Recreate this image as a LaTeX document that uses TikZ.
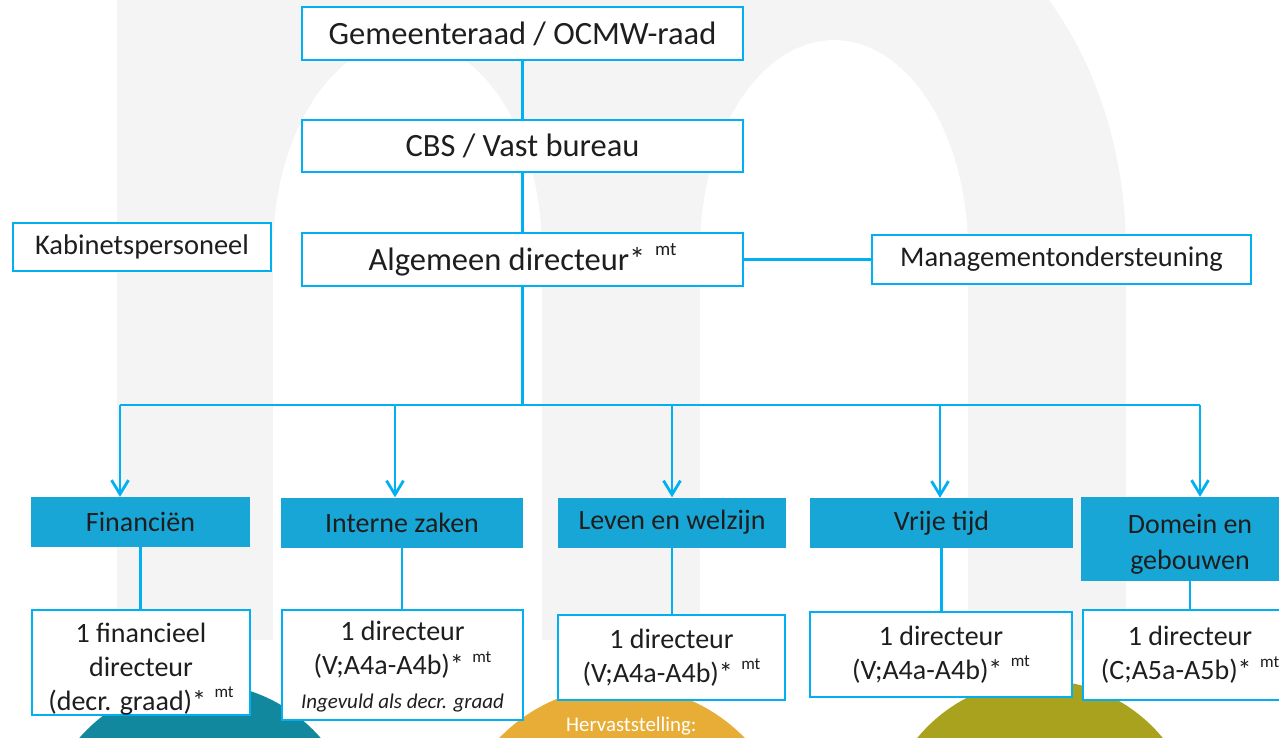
\documentclass[tikz,border=0pt]{standalone}
\usepackage{fontspec}
\setmainfont{Carlito}
\usepackage{tikz}
\usetikzlibrary{arrows.meta,positioning}
\definecolor{lineblue}{HTML}{00B0F0}
\definecolor{deptblue}{HTML}{18A6D6}
\definecolor{inkdark}{HTML}{1E1E1E}
\definecolor{mgrey}{HTML}{F4F4F4}
\definecolor{tealdot}{HTML}{12889F}
\definecolor{golddot}{HTML}{E8AD36}
\definecolor{olivedot}{HTML}{A8A21E}
\newcommand{\mtsup}[1]{\hspace{.3em}\raisebox{.45em}{\fontsize{#1}{#1}\selectfont mt}}
% less depth below pushes the lines down by half of #1
\newcommand{\dropby}[2]{\raisebox{0pt}[\height][\dimexpr\depth-#1\relax]{\begin{tabular}{@{}c@{}}#2\end{tabular}}}

\begin{document}
\begin{tikzpicture}[x=1pt,y=-1pt,
   orgbox/.style={draw=lineblue,line width=2.5pt,fill=white,text=inkdark,align=center,inner sep=2pt},
   topbox/.style={orgbox,minimum width=441pt,minimum height=53pt,font=\fontsize{32.5}{38}\selectfont},
   sidebox/.style={orgbox,minimum height=49pt,font=\fontsize{28.5}{34}\selectfont},
   deptbox/.style={fill=deptblue,text=inkdark,align=center,minimum height=50pt,font=\fontsize{28}{36}\selectfont},
   postbox/.style={orgbox,font=\fontsize{28}{34}\selectfont},
   linkline/.style={draw=lineblue,line width=3.2pt},
   busline/.style={draw=lineblue,line width=2.8pt},
   feedarrow/.style={busline,-{Straight Barb[length=14pt,width=17pt]}}]
  \useasboundingbox (0,0) rectangle (1279,737);
  % faint m in the back
  \fill[mgrey] (117,640) -- (117,-30) -- (1024,-30)
     -- plot[domain=49.2:0,variable=\t,samples=30] ({833+293*cos(\t)},{250-370*sin(\t)})
     -- (1126,640) -- cycle;
  \fill[white] (273,640) -- (273,250)
     -- plot[domain=180:0,variable=\t,samples=40] ({407.5+134.5*cos(\t)},{250-210*sin(\t)})
     -- (542,640) -- cycle;
  \fill[white] (700,640) -- (700,250)
     -- plot[domain=180:0,variable=\t,samples=40] ({834+134*cos(\t)},{250-210*sin(\t)})
     -- (968,640) -- cycle;
  % coloured dots at the foot
  \fill[tealdot] (200,843) circle[radius=160pt];
  \fill[golddot] (622,857) circle[radius=171pt];
  \fill[olivedot] (1040,839) circle[radius=159pt];
  \node[font=\fontsize{20.8}{24}\selectfont,text=white,anchor=base west,inner sep=0pt] (herv) at (566,731) {Hervaststelling:};

  % top of the chart
  \node[topbox] (gemraad) at (522.5,33.5) {Gemeenteraad / OCMW-raad};
  \node[topbox,minimum height=52pt] (cbs) at (522.5,146) {CBS / Vast bureau};
  \node[topbox] (algdir) at (522.5,259.5) {Algemeen directeur*\mtsup{19}};
  \node[sidebox,minimum width=258pt,minimum height=48pt] (kabinet) at (142,247) {Kabinetspersoneel};
  \node[sidebox,minimum width=379pt] (mgmt) at (1061.5,259.5) {Managementondersteuning};
  \draw[linkline] (gemraad) -- (cbs);
  \draw[linkline] (cbs) -- (algdir);
  \draw[linkline] (algdir) -- (mgmt);

  % departments
  \node[deptbox,minimum width=219pt] (fin) at (140.5,522) {Financiën};
  \node[deptbox,minimum width=242pt] (intern) at (402,522.5) {Interne zaken};
  \node[deptbox,minimum width=228pt] (leven) at (672,522.5) {Leven en welzijn};
  \node[deptbox,minimum width=263pt] (vrij) at (941.5,523) {Vrije tijd};
  \node[deptbox,minimum width=218pt,minimum height=84pt] (domein) at (1190,539)
     {\dropby{10pt}{Domein en\\gebouwen}};

  \coordinate (split) at (522.5,405);
  \draw[busline] (algdir) -- (split);
  \foreach \x/\n [count=\i] in {120/fin,395/intern,672/leven,940/vrij,1200/domein}{
    \coordinate (drop\i) at (\x,405);
    \draw[feedarrow] (drop\i) -- (drop\i |- \n.north);}
  \draw[busline] (drop1) -- (drop5);

  % one director per department
  \node[postbox,minimum width=218pt,minimum height=105pt] (dirfin) at (141,662.5)
     {\dropby{14pt}{1 financieel\\directeur\\(decr. graad)*\mtsup{17}}};
  \node[postbox,minimum width=241pt,minimum height=110pt] (dirint) at (402.5,665)
     {\dropby{6pt}{1 directeur\\(V;A4a-A4b)*\mtsup{17}\\{\fontsize{21}{24}\selectfont\itshape Ingevuld als decr. graad}}};
  \node[postbox,minimum width=227pt,minimum height=85pt] (dirlev) at (671.5,657.5)
     {1 directeur\\(V;A4a-A4b)*\mtsup{17}};
  \node[postbox,minimum width=262pt,minimum height=85pt] (dirvrij) at (941,654.5)
     {1 directeur\\(V;A4a-A4b)*\mtsup{17}};
  \node[postbox,minimum width=214pt,minimum height=90pt] (dirdom) at (1190,655)
     {1 directeur\\(C;A5a-A5b)*\mtsup{17}};
  \foreach \a/\b in {fin/dirfin,intern/dirint,leven/dirlev,vrij/dirvrij,domein/dirdom}
    \draw[busline] (\a.south) -- (\a.south |- \b.north);
\end{tikzpicture}
\end{document}
